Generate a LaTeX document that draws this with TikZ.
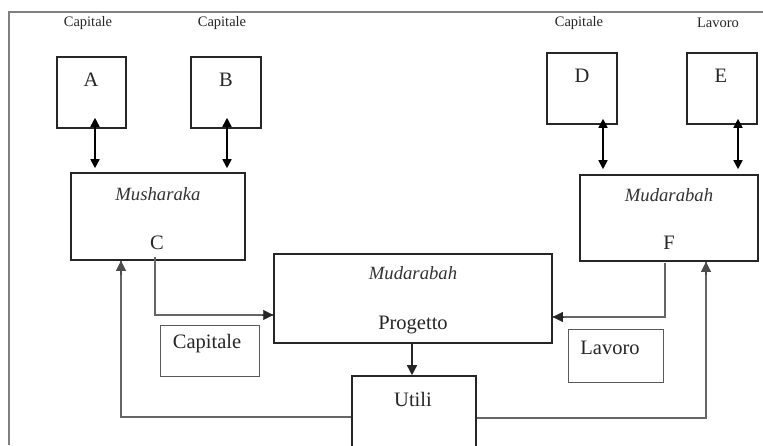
\documentclass[tikz,border=0pt]{standalone}
\usepackage{fontspec}
\setmainfont{Liberation Serif}
\usetikzlibrary{arrows.meta}
\begin{document}
\begin{tikzpicture}[x=1pt,y=-1pt,
  box/.style={draw=black!85,line width=1.6pt,minimum width=#1,inner sep=0pt},
  lbl/.style={draw=black!65,line width=0.9pt,inner sep=0pt},
  big/.style={font=\fontsize{20.5}{22}\selectfont,inner sep=0pt,text=black!85},
  small/.style={font=\fontsize{14.5}{16}\selectfont,inner sep=0pt,text=black!85},
  ital/.style={font=\fontsize{18.7}{20}\selectfont\itshape,inner sep=0pt,text=black!80},
  dbl/.style={line width=1.6pt,{Triangle[length=9pt,width=9pt]}-{Triangle[length=9pt,width=9pt]}},
  flow/.style={draw=black!60,line width=1.1pt},
  tip/.style={-{Triangle[length=10pt,width=10pt]},black!85}]
\useasboundingbox (0,0) rectangle (763,445);
\clip (0,0) rectangle (763,445);
\fill[white] (0,0) rectangle (763,445);
% frame
\draw[black!50,line width=1.2pt] (9,445) -- (9,12) -- (763,12);
% top boxes
\node[box=69pt,minimum height=71pt] (A) at (91.5,92.5) {};
\node[box=70pt,minimum height=71pt] (B) at (226,92.5) {};
\node[box=70pt,minimum height=71pt] (D) at (582,88.5) {};
\node[box=70pt,minimum height=71pt] (E) at (722,88.5) {};
\node[big] (tA) at (91,80) {A};
\node[big] (tB) at (226,80) {B};
\node[big] (tD) at (582,76) {D};
\node[big] (tE) at (721,76) {E};
\node[small] (cA) at (88,23) {Capitale};
\node[small] (cB) at (222,23) {Capitale};
\node[small] (cD) at (579,23) {Capitale};
\node[small] (cE) at (718,23) {Lavoro};
% middle boxes
\node[box=174pt,minimum height=87pt] (M) at (158,216.5) {};
\node[ital] (tM) at (158,194) {Musharaka};
\node[big] (tC) at (157,243) {C};
\node[box=178pt,minimum height=86pt] (F) at (669,218) {};
\node[ital] (tF1) at (669,195) {Mudarabah};
\node[big] (tF) at (669,243) {F};
\node[box=278pt,minimum height=89pt] (P) at (413,298.5) {};
\node[ital] (tP1) at (413,273) {Mudarabah};
\node[big] (tP) at (413,325) {Progetto};
\node[box=124pt,minimum height=88pt] (U) at (414,420) {};
\node[big] (tU) at (413,399) {Utili};
% label boxes
\node[lbl,minimum width=99pt,minimum height=51pt] (LC) at (209.5,350.5) {};
\node[big] (tLC) at (207,344) {Capitale};
\node[lbl,minimum width=95pt,minimum height=53pt] (LF) at (615.5,355.5) {};
\node[big] (tLF) at (610,348) {Lavoro};
% coordinates
\coordinate (cs) at (155,257);
\coordinate (ce) at (155,315);
\coordinate (fs) at (665,263);
\coordinate (fe) at (665,317);
\coordinate (ul) at (121,417);
\coordinate (ur) at (706,418);
% double arrows
\draw[dbl] (A.south -| 95,0) ++(0,-11) -- ([yshift=4pt]M.north -| 95,0);
\draw[dbl] (B.south -| 227,0) ++(0,-11) -- ([yshift=4pt]M.north -| 227,0);
\draw[dbl] (D.south -| 603,0) ++(0,-6) -- ([yshift=5pt]F.north -| 603,0);
\draw[dbl] (E.south -| 738,0) ++(0,-6) -- ([yshift=5pt]F.north -| 738,0);
% flows
\draw[flow] (cs) -- (ce) -- (ce -| P.west);
\draw[tip,line width=0.1pt] (ce -| 262,0) -- (ce -| P.west);
\draw[flow] (fs) -- (fe) -- (fe -| P.east);
\draw[tip,line width=0.1pt] (fe -| 564,0) -- (fe -| P.east);
\draw[line width=1.6pt,black!85,-{Triangle[length=10pt,width=10pt]}] (P.south -| 412,0) -- (U.north -| 412,0);
\draw[flow] (U.west |- ul) -- (ul) -- (ul |- M.south);
\draw[tip,line width=1.1pt,black!70] (121,275) -- (ul |- M.south);
\draw[flow] (U.east |- ur) -- (ur) -- (ur |- F.south);
\draw[tip,line width=1.1pt,black!70] (706,275) -- (ur |- F.south);
\end{tikzpicture}
\end{document}
